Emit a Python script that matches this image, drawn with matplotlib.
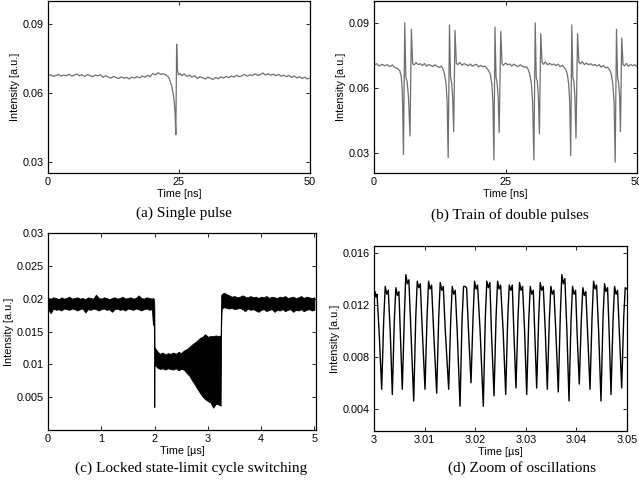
import matplotlib.pyplot as plt
from matplotlib.ticker import FormatStrFormatter

# ---- (a) single pulse : time [ns], intensity [a.u.]
t_a = [0.0, 0.5, 1.0, 1.5, 2.0, 2.5, 3.0, 3.5, 4.0, 4.5, 5.0, 5.5, 6.0, 6.5, 7.0, 7.5,
       8.0, 8.5, 9.0, 9.5, 10.0, 10.5, 11.0, 11.5, 12.0, 12.5, 13.0, 13.5, 14.0, 14.5,
       15.0, 15.5, 16.0, 16.5, 17.0, 17.5, 18.0, 18.5, 19.0, 19.5, 20.0, 20.5, 21.0,
       21.5, 22.0, 22.5, 23.0, 23.3, 23.6, 23.9, 24.1, 24.25, 24.4, 24.55, 24.7, 24.9,
       25.2, 25.5, 26.0, 26.5, 27.0, 27.5, 28.0, 28.5, 29.0, 29.5, 30.0, 30.5, 31.0,
       31.5, 32.0, 32.5, 33.0, 33.5, 34.0, 34.5, 35.0, 35.5, 36.0, 36.5, 37.0, 37.5,
       38.0, 38.5, 39.0, 39.5, 40.0, 40.5, 41.0, 41.5, 42.0, 42.5, 43.0, 43.5, 44.0,
       44.5, 45.0, 45.5, 46.0, 46.5, 47.0, 47.5, 48.0, 48.5, 49.0, 49.5, 50.0]
v_a = [0.0673, 0.0679, 0.0671, 0.0675, 0.0680, 0.0672, 0.0677, 0.0674, 0.0681, 0.0673,
       0.0676, 0.0682, 0.0674, 0.0678, 0.0671, 0.0679, 0.0675, 0.0670, 0.0677, 0.0673,
       0.0679, 0.0667, 0.0674, 0.0669, 0.0664, 0.0671, 0.0666, 0.0662, 0.0669, 0.0663,
       0.0667, 0.0660, 0.0668, 0.0664, 0.0670, 0.0665, 0.0673, 0.0668, 0.0676, 0.0670,
       0.0684, 0.0678, 0.0687, 0.0680, 0.0683, 0.0677, 0.0668, 0.0652, 0.0630, 0.0595,
       0.0560, 0.0510, 0.0418, 0.0812, 0.0700, 0.0678, 0.0684,
       0.0675, 0.0682, 0.0671, 0.0677, 0.0668, 0.0674, 0.0662, 0.0670, 0.0665, 0.0660,
       0.0668, 0.0663, 0.0658, 0.0666, 0.0661, 0.0669, 0.0664, 0.0671, 0.0666, 0.0673,
       0.0668, 0.0676, 0.0670, 0.0674, 0.0680, 0.0672, 0.0678, 0.0675, 0.0682, 0.0676,
       0.0679, 0.0686, 0.0677, 0.0683, 0.0676, 0.0681, 0.0674, 0.0680, 0.0672, 0.0677,
       0.0670, 0.0675, 0.0667, 0.0673, 0.0664, 0.0670, 0.0662, 0.0668, 0.0660, 0.0665]

# ---- (b) train of double pulses
t_b = [0.0, 0.5, 1.0, 1.5, 2.0, 2.5, 3.0, 3.5, 4.0, 4.5,
       4.9, 5.2, 5.4, 5.6, 5.85, 6.05, 6.3, 6.55, 6.85, 7.1, 7.35,
       7.6, 8.0, 8.4, 8.8, 9.2, 9.6, 10.0, 10.4, 10.8, 11.2, 11.6, 12.0, 12.4, 12.8, 13.1,
       13.4, 13.7, 13.9, 14.1, 14.35, 14.55, 14.75, 14.95, 15.15, 15.4, 15.65,
       15.9, 16.3, 16.7, 17.1, 17.5, 17.9, 18.3, 18.7, 19.1, 19.5, 19.9, 20.3, 20.7, 21.1,
       21.5, 21.8,
       22.1, 22.4, 22.6, 22.8, 23.0, 23.2, 23.4, 23.6, 23.8, 24.1, 24.35,
       24.6, 25.0, 25.4, 25.8, 26.2, 26.6, 27.0, 27.4, 27.8, 28.2, 28.6, 29.0, 29.3,
       29.6, 29.9, 30.15, 30.4, 30.65, 30.85, 31.05, 31.25, 31.45, 31.7, 31.95,
       32.2, 32.6, 33.0, 33.4, 33.8, 34.2, 34.6, 35.0, 35.4, 35.8, 36.2, 36.5,
       36.75, 37.0, 37.2, 37.4, 37.6, 37.8, 38.0, 38.2, 38.4, 38.7, 38.95,
       39.2, 39.6, 40.0, 40.4, 40.8, 41.2, 41.6, 42.0, 42.4, 42.8, 43.2, 43.6, 44.0,
       44.4, 44.8,
       45.1, 45.4, 45.65, 45.85, 46.1, 46.3, 46.5, 46.7, 46.85, 47.1, 47.35,
       47.6, 48.0, 48.4, 48.8, 49.2, 49.6, 50.0]
v_b = [0.0705, 0.0712, 0.0701, 0.0709, 0.0703, 0.0707, 0.0699, 0.0706, 0.0694, 0.0690,
       0.0680, 0.0650, 0.0580, 0.0295, 0.0900, 0.0650, 0.0630, 0.0560, 0.0380, 0.0870, 0.0712,
       0.0706, 0.0717, 0.0708, 0.0712, 0.0703, 0.0713, 0.0701, 0.0708, 0.0704, 0.0699,
       0.0707, 0.0700, 0.0695, 0.0701, 0.0688,
       0.0665, 0.0620, 0.0540, 0.0280, 0.0890, 0.0650, 0.0625, 0.0560, 0.0400, 0.0865, 0.0715,
       0.0707, 0.0718, 0.0705, 0.0712, 0.0709, 0.0702, 0.0711, 0.0700, 0.0706, 0.0709,
       0.0697, 0.0704, 0.0698, 0.0701, 0.0690, 0.0680,
       0.0664, 0.0620, 0.0540, 0.0270, 0.0880, 0.0650, 0.0625, 0.0560, 0.0396, 0.0860, 0.0712,
       0.0705, 0.0715, 0.0707, 0.0711, 0.0701, 0.0710, 0.0703, 0.0699, 0.0707, 0.0700,
       0.0696, 0.0698, 0.0686,
       0.0665, 0.0625, 0.0540, 0.0270, 0.0900, 0.0650, 0.0630, 0.0560, 0.0390, 0.0850, 0.0718,
       0.0709, 0.0720, 0.0707, 0.0714, 0.0706, 0.0711, 0.0703, 0.0710, 0.0698, 0.0705,
       0.0693, 0.0684,
       0.0664, 0.0620, 0.0540, 0.0290, 0.0890, 0.0650, 0.0630, 0.0560, 0.0370, 0.0850, 0.0720,
       0.0711, 0.0721, 0.0708, 0.0715, 0.0707, 0.0712, 0.0704, 0.0709, 0.0701, 0.0708,
       0.0696, 0.0704, 0.0693, 0.0696, 0.0684,
       0.0664, 0.0620, 0.0530, 0.0260, 0.0870, 0.0650, 0.0625, 0.0560, 0.0400, 0.0830, 0.0708,
       0.0702, 0.0713, 0.0700, 0.0708, 0.0703, 0.0707, 0.0698]

# ---- (c) locked state / limit cycle switching: envelope of the dense trace
t_c = [0.00, 0.05, 0.10, 0.15, 0.20, 0.25, 0.30, 0.35, 0.40, 0.45, 0.50, 0.55, 0.60,
       0.65, 0.70, 0.75, 0.80, 0.85, 0.90, 0.95, 1.00, 1.05, 1.10, 1.15, 1.20, 1.25,
       1.30, 1.35, 1.40, 1.45, 1.50, 1.55, 1.60, 1.65, 1.70, 1.75, 1.80, 1.85, 1.90,
       1.95, 1.97, 1.985, 1.995, 2.00,
       2.05, 2.10, 2.15, 2.20, 2.25, 2.30, 2.35, 2.40, 2.45, 2.50, 2.55,
       2.60, 2.65, 2.70, 2.75, 2.80, 2.85, 2.90, 2.95, 3.00, 3.05, 3.10, 3.15, 3.20,
       3.24, 3.25, 3.26,
       3.30, 3.35, 3.40, 3.45, 3.50, 3.55, 3.60, 3.65, 3.70, 3.75, 3.80, 3.85, 3.90,
       3.95, 4.00, 4.05, 4.10, 4.15, 4.20, 4.25, 4.30, 4.35, 4.40, 4.45, 4.50, 4.55,
       4.60, 4.65, 4.70, 4.75, 4.80, 4.85, 4.90, 4.95, 5.00]
up_c = [0.0201, 0.0200, 0.0202, 0.0201, 0.0199, 0.0202, 0.0200, 0.0201, 0.0203, 0.0200,
        0.0201, 0.0202, 0.0200, 0.0201, 0.0199, 0.0202, 0.0201, 0.0200, 0.0206, 0.0201,
        0.0200, 0.0202, 0.0201, 0.0199, 0.0201, 0.0202, 0.0200, 0.0201, 0.0203, 0.0200,
        0.0201, 0.0202, 0.0200, 0.0201, 0.0205, 0.0201, 0.0200, 0.0202, 0.0201, 0.0200,
        0.0201, 0.0200, 0.0190, 0.0126,
        0.0120, 0.0116, 0.0118, 0.0115, 0.0117, 0.0116, 0.0118, 0.0116, 0.0119, 0.0117,
        0.0121,
        0.0123, 0.0126, 0.0130, 0.0133, 0.0136, 0.0140, 0.0142, 0.0146, 0.0142, 0.0143,
        0.0143, 0.0144, 0.0143,
        0.0144, 0.0205, 0.0207,
        0.0209, 0.0207, 0.0205, 0.0203, 0.0204, 0.0202, 0.0203, 0.0205, 0.0203, 0.0202,
        0.0204, 0.0202, 0.0203, 0.0201, 0.0203, 0.0202, 0.0204, 0.0201, 0.0203, 0.0202,
        0.0201, 0.0203, 0.0202, 0.0204, 0.0201, 0.0202, 0.0203, 0.0201, 0.0202, 0.0204,
        0.0201, 0.0203, 0.0202, 0.0201, 0.0202]
lo_c = [0.0184, 0.0178, 0.0185, 0.0183, 0.0184, 0.0182, 0.0185, 0.0184, 0.0183, 0.0185,
        0.0184, 0.0182, 0.0184, 0.0185, 0.0179, 0.0184, 0.0183, 0.0185, 0.0184, 0.0182,
        0.0184, 0.0185, 0.0183, 0.0184, 0.0180, 0.0184, 0.0185, 0.0183, 0.0184, 0.0182,
        0.0185, 0.0184, 0.0183, 0.0185, 0.0184, 0.0182, 0.0184, 0.0185, 0.0183, 0.0184,
        0.0160, 0.0183, 0.0035, 0.0100,
        0.0095, 0.0093, 0.0094, 0.0092, 0.0094, 0.0093, 0.0092, 0.0094, 0.0091, 0.0093,
        0.0092,
        0.0087, 0.0083, 0.0076, 0.0070, 0.0063, 0.0057, 0.0051, 0.0047, 0.0044, 0.0042,
        0.0034, 0.0040, 0.0039,
        0.0037, 0.0160, 0.0185,
        0.0187, 0.0186, 0.0185, 0.0186, 0.0184, 0.0185, 0.0186, 0.0184, 0.0181, 0.0185,
        0.0183, 0.0184, 0.0182, 0.0180, 0.0183, 0.0184, 0.0181, 0.0183, 0.0184, 0.0180,
        0.0183, 0.0182, 0.0184, 0.0181, 0.0183, 0.0184, 0.0180, 0.0183, 0.0182, 0.0184,
        0.0181, 0.0183, 0.0184, 0.0182, 0.0183]

# ---- (d) zoom of oscillations : time [us]
t_d = [3.00000, 3.00020, 3.00040, 3.00060, 3.00100,
       3.00152, 3.00192, 3.00222, 3.00252, 3.00282, 3.00322,
       3.00362, 3.00402, 3.00432, 3.00462, 3.00492, 3.00522,
       3.00559, 3.00599, 3.00629, 3.00659, 3.00689, 3.00729,
       3.00785, 3.00825, 3.00855, 3.00885, 3.00915, 3.00955,
       3.01008, 3.01048, 3.01078, 3.01108, 3.01138, 3.01178,
       3.01239, 3.01279, 3.01309, 3.01339, 3.01369, 3.01409,
       3.01476, 3.01516, 3.01546, 3.01576, 3.01606, 3.01646,
       3.01700, 3.01740, 3.01770, 3.01800, 3.01830, 3.01870,
       3.01917, 3.01957, 3.01987, 3.02017, 3.02047, 3.02097,
       3.02160, 3.02200, 3.02230, 3.02260, 3.02290, 3.02320,
       3.02372, 3.02412, 3.02442, 3.02472, 3.02502, 3.02552,
       3.02603, 3.02643, 3.02673, 3.02703, 3.02733, 3.02763,
       3.02806, 3.02846, 3.02876, 3.02906, 3.02936, 3.02976,
       3.03018, 3.03058, 3.03088, 3.03118, 3.03148, 3.03178,
       3.03215, 3.03255, 3.03285, 3.03315, 3.03345, 3.03385,
       3.03425, 3.03465, 3.03495, 3.03525, 3.03555, 3.03595,
       3.03642, 3.03682, 3.03712, 3.03742, 3.03772, 3.03812,
       3.03854, 3.03894, 3.03924, 3.03954, 3.03984, 3.04014,
       3.04057, 3.04097, 3.04127, 3.04157, 3.04187, 3.04222,
       3.04269, 3.04309, 3.04339, 3.04369, 3.04399, 3.04439,
       3.04486, 3.04526, 3.04556, 3.04586, 3.04616, 3.04646,
       3.04684, 3.04724, 3.04754, 3.04784, 3.04814, 3.04849,
       3.04895, 3.04935, 3.04965, 3.05000]
v_d = [0.0121, 0.0130, 0.0126, 0.0128, 0.0100,
       0.0055, 0.0108, 0.0134, 0.0128, 0.0131, 0.0098,
       0.0051, 0.0108, 0.0133, 0.0127, 0.0130, 0.0097,
       0.0055, 0.0110, 0.0143, 0.0136, 0.0139, 0.0100,
       0.0046, 0.0110, 0.0138, 0.0133, 0.0136, 0.0100,
       0.0055, 0.0110, 0.0138, 0.0132, 0.0135, 0.0100,
       0.0052, 0.0110, 0.0137, 0.0131, 0.0134, 0.0100,
       0.0055, 0.0108, 0.0134, 0.0128, 0.0131, 0.0098,
       0.0042, 0.0108, 0.0134, 0.0134, 0.0133, 0.0098,
       0.0060, 0.0110, 0.0138, 0.0132, 0.0135, 0.0100,
       0.0042, 0.0110, 0.0138, 0.0133, 0.0137, 0.0100,
       0.0050, 0.0110, 0.0138, 0.0132, 0.0135, 0.0100,
       0.0051, 0.0110, 0.0135, 0.0131, 0.0135, 0.0100,
       0.0056, 0.0110, 0.0137, 0.0131, 0.0134, 0.0100,
       0.0051, 0.0108, 0.0134, 0.0128, 0.0131, 0.0098,
       0.0056, 0.0110, 0.0137, 0.0131, 0.0134, 0.0100,
       0.0055, 0.0108, 0.0134, 0.0128, 0.0131, 0.0098,
       0.0053, 0.0112, 0.0143, 0.0136, 0.0140, 0.0100,
       0.0046, 0.0108, 0.0134, 0.0128, 0.0131, 0.0098,
       0.0059, 0.0108, 0.0133, 0.0127, 0.0130, 0.0098,
       0.0055, 0.0110, 0.0138, 0.0132, 0.0135, 0.0100,
       0.0046, 0.0110, 0.0136, 0.0130, 0.0133, 0.0100,
       0.0051, 0.0108, 0.0134, 0.0128, 0.0131, 0.0098,
       0.0056, 0.0110, 0.0133, 0.0132]

captions = ["(a) Single pulse", "(b) Train of double pulses",
            "(c) Locked state-limit cycle switching", "(d) Zoom of oscillations"]

plt.rcParams['font.family'] = ['Liberation Sans', 'DejaVu Sans']
TICK_FS = 7.8
GRAY = '#6f6f6f'

fig = plt.figure(figsize=(6.39, 4.87), dpi=100)
W, H = 639.0, 487.0

def box(x0, y0, x1, y1):
    # pixel box (left, top, right, bottom) -> figure fraction
    return [x0 / W, 1 - y1 / H, (x1 - x0) / W, (y1 - y0) / H]

ax_a = fig.add_axes(box(48, 1, 310, 173))
ax_b = fig.add_axes(box(374, 1, 637, 173))
ax_c = fig.add_axes(box(48, 233, 316, 430))
ax_d = fig.add_axes(box(374, 246, 627, 431))

ax_a.plot(t_a, v_a, color=GRAY, lw=0.9)
ax_b.plot(t_b, v_b, color=GRAY, lw=0.9)
ax_c.fill_between(t_c, lo_c, up_c, color='black', lw=0.6, edgecolor='black')
ax_d.plot(t_d, v_d, color='black', lw=1.0)

for ax in (ax_a, ax_b):
    ax.set_xlim(0, 50)
    ax.set_xticks([0, 25, 50])
    ax.set_yticks([0.03, 0.06, 0.09])
    ax.yaxis.set_major_formatter(FormatStrFormatter('%.2f'))
    ax.set_xlabel('Time [ns]', fontsize=TICK_FS, labelpad=1)
ax_a.set_ylim(0.025, 0.1)
ax_b.set_ylim(0.021, 0.1)

ax_c.set_xlim(0, 5.03)
ax_c.set_ylim(0, 0.03)
ax_c.set_xticks([0, 1, 2, 3, 4, 5])
ax_c.set_yticks([0.005, 0.01, 0.015, 0.02, 0.025, 0.03])
ax_c.set_yticklabels(['0.005', '0.01', '0.015', '0.02', '0.025', '0.03'])
ax_c.set_xlabel('Time [\u00b5s]', fontsize=TICK_FS, labelpad=1)

ax_d.set_xlim(3.0, 3.05)
ax_d.set_ylim(0.0023, 0.0165)
ax_d.set_xticks([3.0, 3.01, 3.02, 3.03, 3.04, 3.05])
ax_d.set_xticklabels(['3', '3.01', '3.02', '3.03', '3.04', '3.05'])
ax_d.set_yticks([0.004, 0.008, 0.012, 0.016])
ax_d.yaxis.set_major_formatter(FormatStrFormatter('%.3f'))
ax_d.set_xlabel('Time [\u00b5s]', fontsize=TICK_FS, labelpad=1)

for ax in (ax_a, ax_b, ax_c, ax_d):
    ax.tick_params(direction='in', length=3, width=0.6, labelsize=TICK_FS,
                   top=True, right=True, pad=3)
    ax.set_ylabel('Intensity [a.u.]', fontsize=TICK_FS, labelpad=2)
    for s in ax.spines.values():
        s.set_linewidth(0.9)

cap_pos = [(184, 213), (510, 215), (191, 468), (522, 468)]
for txt, (cx, cy) in zip(captions, cap_pos):
    fig.text(cx / W, 1 - cy / H, txt, ha='center', va='center', fontsize=11,
             family=['Liberation Serif', 'DejaVu Serif'])

fig.savefig('out.png', dpi=100)
